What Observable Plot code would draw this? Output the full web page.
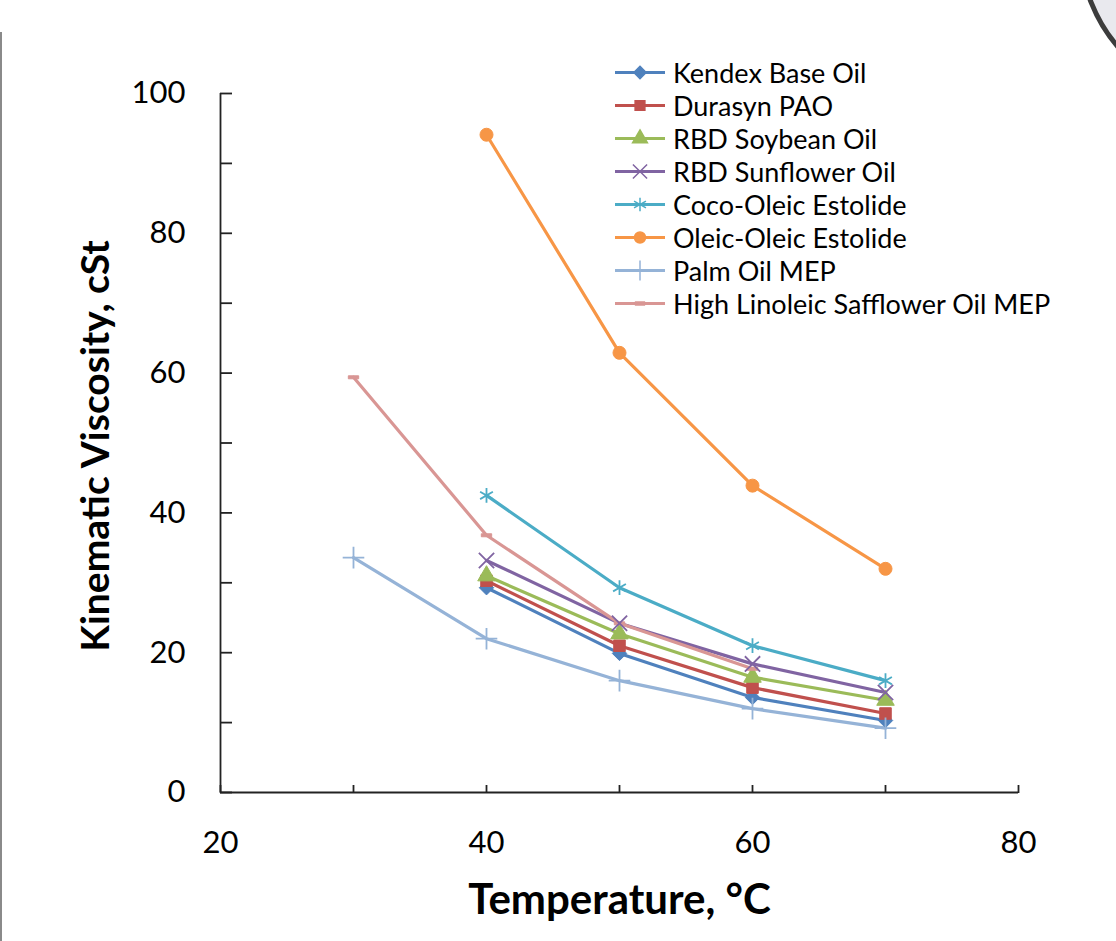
<!DOCTYPE html>
<html><head><meta charset="utf-8">
<script src="https://cdn.jsdelivr.net/npm/d3@7"></script>
<script src="https://cdn.jsdelivr.net/npm/@observablehq/plot@0.6"></script>
<style>
body{margin:0;background:#fff;}
#wrap{position:relative;width:1116px;height:941px;font-family:Lato,"Open Sans",sans-serif;overflow:hidden;}
#wrap svg.plot{position:absolute;left:0;top:0;}
#edge{position:absolute;left:0;top:32px;width:2px;height:909px;background:#8a8a8a;}
#corner{position:absolute;left:1078px;top:-211px;width:314px;height:314px;border-radius:50%;border:5px solid #3c3c3c;background:#e9e9ee;box-sizing:border-box;}
#legend{position:absolute;left:613px;top:56px;}
.lrow{display:flex;align-items:center;height:33px;}
.lrow span{font-size:27px;margin-left:6px;color:#000;white-space:nowrap;}
</style></head><body><div id="wrap"><div id="edge"></div><div id="corner"></div></div>
<script>
// ---- data ----
const temperatures = [30, 40, 50, 60, 70];
const seriesNames = ["Kendex Base Oil","Durasyn PAO","RBD Soybean Oil","RBD Sunflower Oil","Coco-Oleic Estolide","Oleic-Oleic Estolide","Palm Oil MEP","High Linoleic Safflower Oil MEP"];
const kendexBaseOil      = [null, 29.3, 19.9, 13.6, 10.3];
const durasynPAO         = [null, 30.3, 21.0, 15.0, 11.3];
const rbdSoybeanOil      = [null, 31.0, 22.7, 16.5, 13.2];
const rbdSunflowerOil    = [null, 33.2, 24.2, 18.4, 14.3];
const cocoOleicEstolide  = [null, 42.5, 29.3, 21.0, 16.0];
const oleicOleicEstolide = [null, 94.1, 62.9, 43.9, 32.0];
const palmOilMEP         = [33.6, 22.0, 16.0, 12.0, 9.2];
const safflowerOilMEP    = [59.4, 36.8, 24.2, 17.7, null];
const seriesValues = [kendexBaseOil, durasynPAO, rbdSoybeanOil, rbdSunflowerOil, cocoOleicEstolide, oleicOleicEstolide, palmOilMEP, safflowerOilMEP];
const seriesColors = ["#4F81BD","#C0504D","#9BBB59","#8064A2","#4BACC6","#F79646","#95B3D7","#D99694"];
const xTickValues = [20, 30, 40, 50, 60, 70, 80];
const xTickLabels = [20, 40, 60, 80];
const yTickValues = [0, 10, 20, 30, 40, 50, 60, 70, 80, 90, 100];
const yTickLabels = [0, 20, 40, 60, 80, 100];
const xTitle = "Temperature, °C";
const yTitle = "Kinematic Viscosity, cSt";

// ---- symbols ----
const dash = {draw(ctx, size){ const w = Math.sqrt(size) * 0.45, h = 1.5; ctx.moveTo(-w, -h); ctx.lineTo(w, -h); ctx.lineTo(w, h); ctx.lineTo(-w, h); ctx.closePath(); }};
const seriesSymbols = ["diamond2","square","triangle","times","asterisk","circle","plus", dash];
const filled = [true, true, true, false, false, true, false, true];

const rows = [];
seriesNames.forEach((name, i) => {
  seriesValues[i].forEach((v, j) => {
    if (v != null) rows.push({series: name, temp: temperatures[j], visc: v, filled: filled[i]});
  });
});

const plot = Plot.plot({
  width: 1116, height: 941,
  marginLeft: 220, marginRight: 98, marginTop: 93, marginBottom: 149,
  x: {domain: [20, 80]},
  y: {domain: [0, 100]},
  color: {domain: seriesNames, range: seriesColors},
  symbol: {domain: seriesNames, range: seriesSymbols},
  style: {fontFamily: "Lato, sans-serif", fontSize: "31px", color: "#000", background: "transparent"},
  marks: [
    Plot.lineY(rows, {x: "temp", y: "visc", z: "series", stroke: "series", strokeWidth: 3.2}),
    Plot.dot(rows.filter(d => d.filled), {x: "temp", y: "visc", symbol: "series", fill: "series", stroke: "series", strokeWidth: 1, r: 6.5}),
    Plot.dot(rows.filter(d => !d.filled), {x: "temp", y: "visc", symbol: "series", stroke: "series", fill: "none", strokeWidth: 1.8, r: 7}),
    Plot.axisY(yTickValues, {tickSize: -12, fill: "none", label: null, stroke: "#222", strokeWidth: 1.8}),
    Plot.axisY(yTickLabels, {tickSize: 0, tickPadding: 35, label: null, fontSize: 31}),
    Plot.axisX(xTickValues, {anchor: "top", tickSize: 8, dy: 699, fill: "none", label: null, stroke: "#222", strokeWidth: 1.8}),
    Plot.axisX(xTickLabels, {tickSize: 0, tickPadding: 38, label: null, fontSize: 31}),
    Plot.ruleX([20], {stroke: "#222", strokeWidth: 1.8}),
    Plot.ruleY([0], {stroke: "#222", strokeWidth: 1.8}),
    Plot.text([xTitle], {frameAnchor: "bottom", dy: 121, lineAnchor: "bottom", text: d => d, fontSize: 42, fontWeight: "bold", fill: "#000"}),
    Plot.text([yTitle], {frameAnchor: "left", dx: -124, dy: 3, rotate: -90, textAnchor: "middle", lineAnchor: "middle", text: d => d, fontSize: 39, fontWeight: "bold", fill: "#000", letterSpacing: 0.8})
  ]
});
plot.classList.add("plot");
const wrap = document.getElementById("wrap");
wrap.appendChild(plot);

// ---- legend ----
const legend = document.createElement("div"); legend.id = "legend"; wrap.appendChild(legend);
const symMap = {diamond2: d3.symbolDiamond2, square: d3.symbolSquare, triangle: d3.symbolTriangle, times: d3.symbolTimes, asterisk: d3.symbolAsterisk, circle: d3.symbolCircle, plus: d3.symbolPlus};
seriesNames.forEach((name, i) => {
  const row = document.createElement("div"); row.className = "lrow";
  const s = d3.create("svg").attr("width", 54).attr("height", 33);
  s.append("line").attr("x1", 2).attr("x2", 52).attr("y1", 16.5).attr("y2", 16.5).attr("stroke", seriesColors[i]).attr("stroke-width", 3.2);
  const sym = typeof seriesSymbols[i] === "string" ? symMap[seriesSymbols[i]] : seriesSymbols[i];
  const r = filled[i] ? 5.5 : 6.5;
  s.append("path").attr("transform", "translate(27,16.5)")
    .attr("d", d3.symbol(sym, Math.PI * r * r)())
    .attr("fill", filled[i] ? seriesColors[i] : "none")
    .attr("stroke", seriesColors[i]).attr("stroke-width", 1.5);
  row.appendChild(s.node());
  const t = document.createElement("span"); t.textContent = name; row.appendChild(t);
  legend.appendChild(row);
});
</script>
</body></html>
